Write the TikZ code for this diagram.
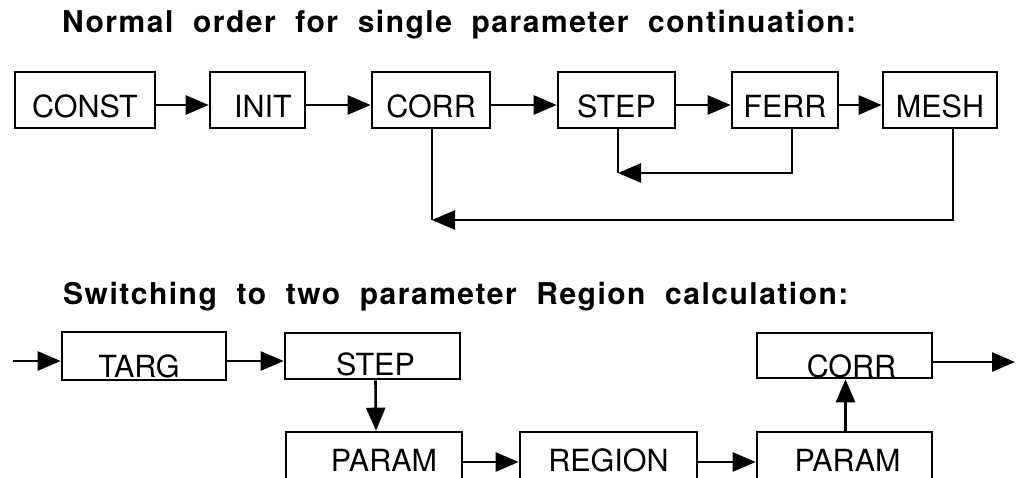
\documentclass[tikz,border=0pt]{standalone}
\usepackage{fontspec}
\setmainfont{TeX Gyre Heros}
\newfontfamily\titlefont[LetterSpace=5,WordSpace=2]{TeX Gyre Heros}
\usetikzlibrary{arrows.meta}
\tikzset{
  box/.style={draw, line width=2.6pt, inner sep=0pt, font=\fontsize{30.5}{36}\selectfont},
  toprow/.style={box, text height=46pt, text depth=10pt},
  arr/.style={line width=2.6pt, -{Triangle[length=23pt,width=19pt]}},
  ln/.style={line width=2.6pt},
  ttl/.style={anchor=base west, inner sep=0pt, font={\titlefont\bfseries\fontsize{30}{34}\selectfont}}
}
\begin{document}
\begin{tikzpicture}[x=1pt,y=-1pt]
\useasboundingbox (0,0) rectangle (1017,478);
\fill[white] (0,0) rectangle (1017,478);
\clip (0,0) rectangle (1017,478);

% titles
\node[ttl] (t1) at (62,33) {Normal order for single parameter continuation:};
\node[ttl] (t2) at (63,305) {Switching to two parameter Region calculation:};

% top row
\node[toprow, minimum width=140pt] (const) at (85,100) {CONST};
\node[toprow, minimum width=95pt] (init) at (257.5,100) {\hspace*{11pt}INIT};
\node[toprow, minimum width=118pt] (corr) at (431,100) {CORR};
\node[toprow, minimum width=117pt] (step) at (616.5,100) {STEP};
\node[toprow, minimum width=106pt] (ferr) at (785,100) {FERR};
\node[toprow, minimum width=114pt] (mesh) at (940,100) {MESH};

\draw[arr] ([yshift=-5pt]const.east) -- ([yshift=-5pt]init.west);
\draw[arr] ([yshift=-5pt]init.east) -- ([yshift=-5pt]corr.west);
\draw[arr] ([yshift=-5pt]corr.east) -- ([yshift=-5pt]step.west);
\draw[arr] ([yshift=-5pt]step.east) -- ([yshift=-5pt]ferr.west);
\draw[arr] ([yshift=-5pt]ferr.east) -- ([yshift=-5pt]mesh.west);

\coordinate (j1) at (618,173);
\coordinate (f1) at (792,173);
\coordinate (j2) at (432,220);
\coordinate (m1) at (953,220);
\draw[ln] (step.south -| j1) -- (j1);
\draw[arr] (ferr.south -| f1) -- (f1) -- (j1);
\draw[ln] (corr.south -| j2) -- (j2);
\draw[arr] (mesh.south -| m1) -- (m1) -- (j2);

% bottom part
\node[box, text height=45pt, text depth=3pt, minimum width=164pt] (targ) at (144,356) {TARG\hspace*{10pt}};
\node[box, text height=42pt, text depth=4pt, minimum width=175pt] (step2) at (372.5,356) {\hspace*{6pt}STEP};
\node[box, text height=44pt, text depth=1pt, minimum width=175pt] (corr2) at (844.5,355.5) {\hspace*{14pt}CORR};
\node[box, text height=39pt, text depth=21pt, minimum width=176pt] (param1) at (374,462) {\hspace*{20pt}PARAM};
\node[box, text height=39pt, text depth=21pt, minimum width=177pt] (region) at (608.5,462) {REGION};
\node[box, text height=39pt, text depth=21pt, minimum width=175pt] (param2) at (844.5,462) {\hspace*{6pt}PARAM};

\coordinate (in) at (13,361);
\coordinate (out) at (1015,362);
\draw[arr] (in) -- (in -| targ.west);
\draw[arr] ([yshift=-5pt]targ.east) -- ([yshift=-5pt]step2.west);
\draw[arr] ([xshift=3pt]step2.south) -- ([xshift=2pt]param1.north);
\draw[arr] (param1.east) -- (region.west);
\draw[arr] (region.east) -- (param2.west);
\draw[arr] ([xshift=1pt]param2.north) -- ([xshift=1pt]corr2.south);
\draw[arr] (corr2.east |- out) -- (out);
\end{tikzpicture}
\end{document}
